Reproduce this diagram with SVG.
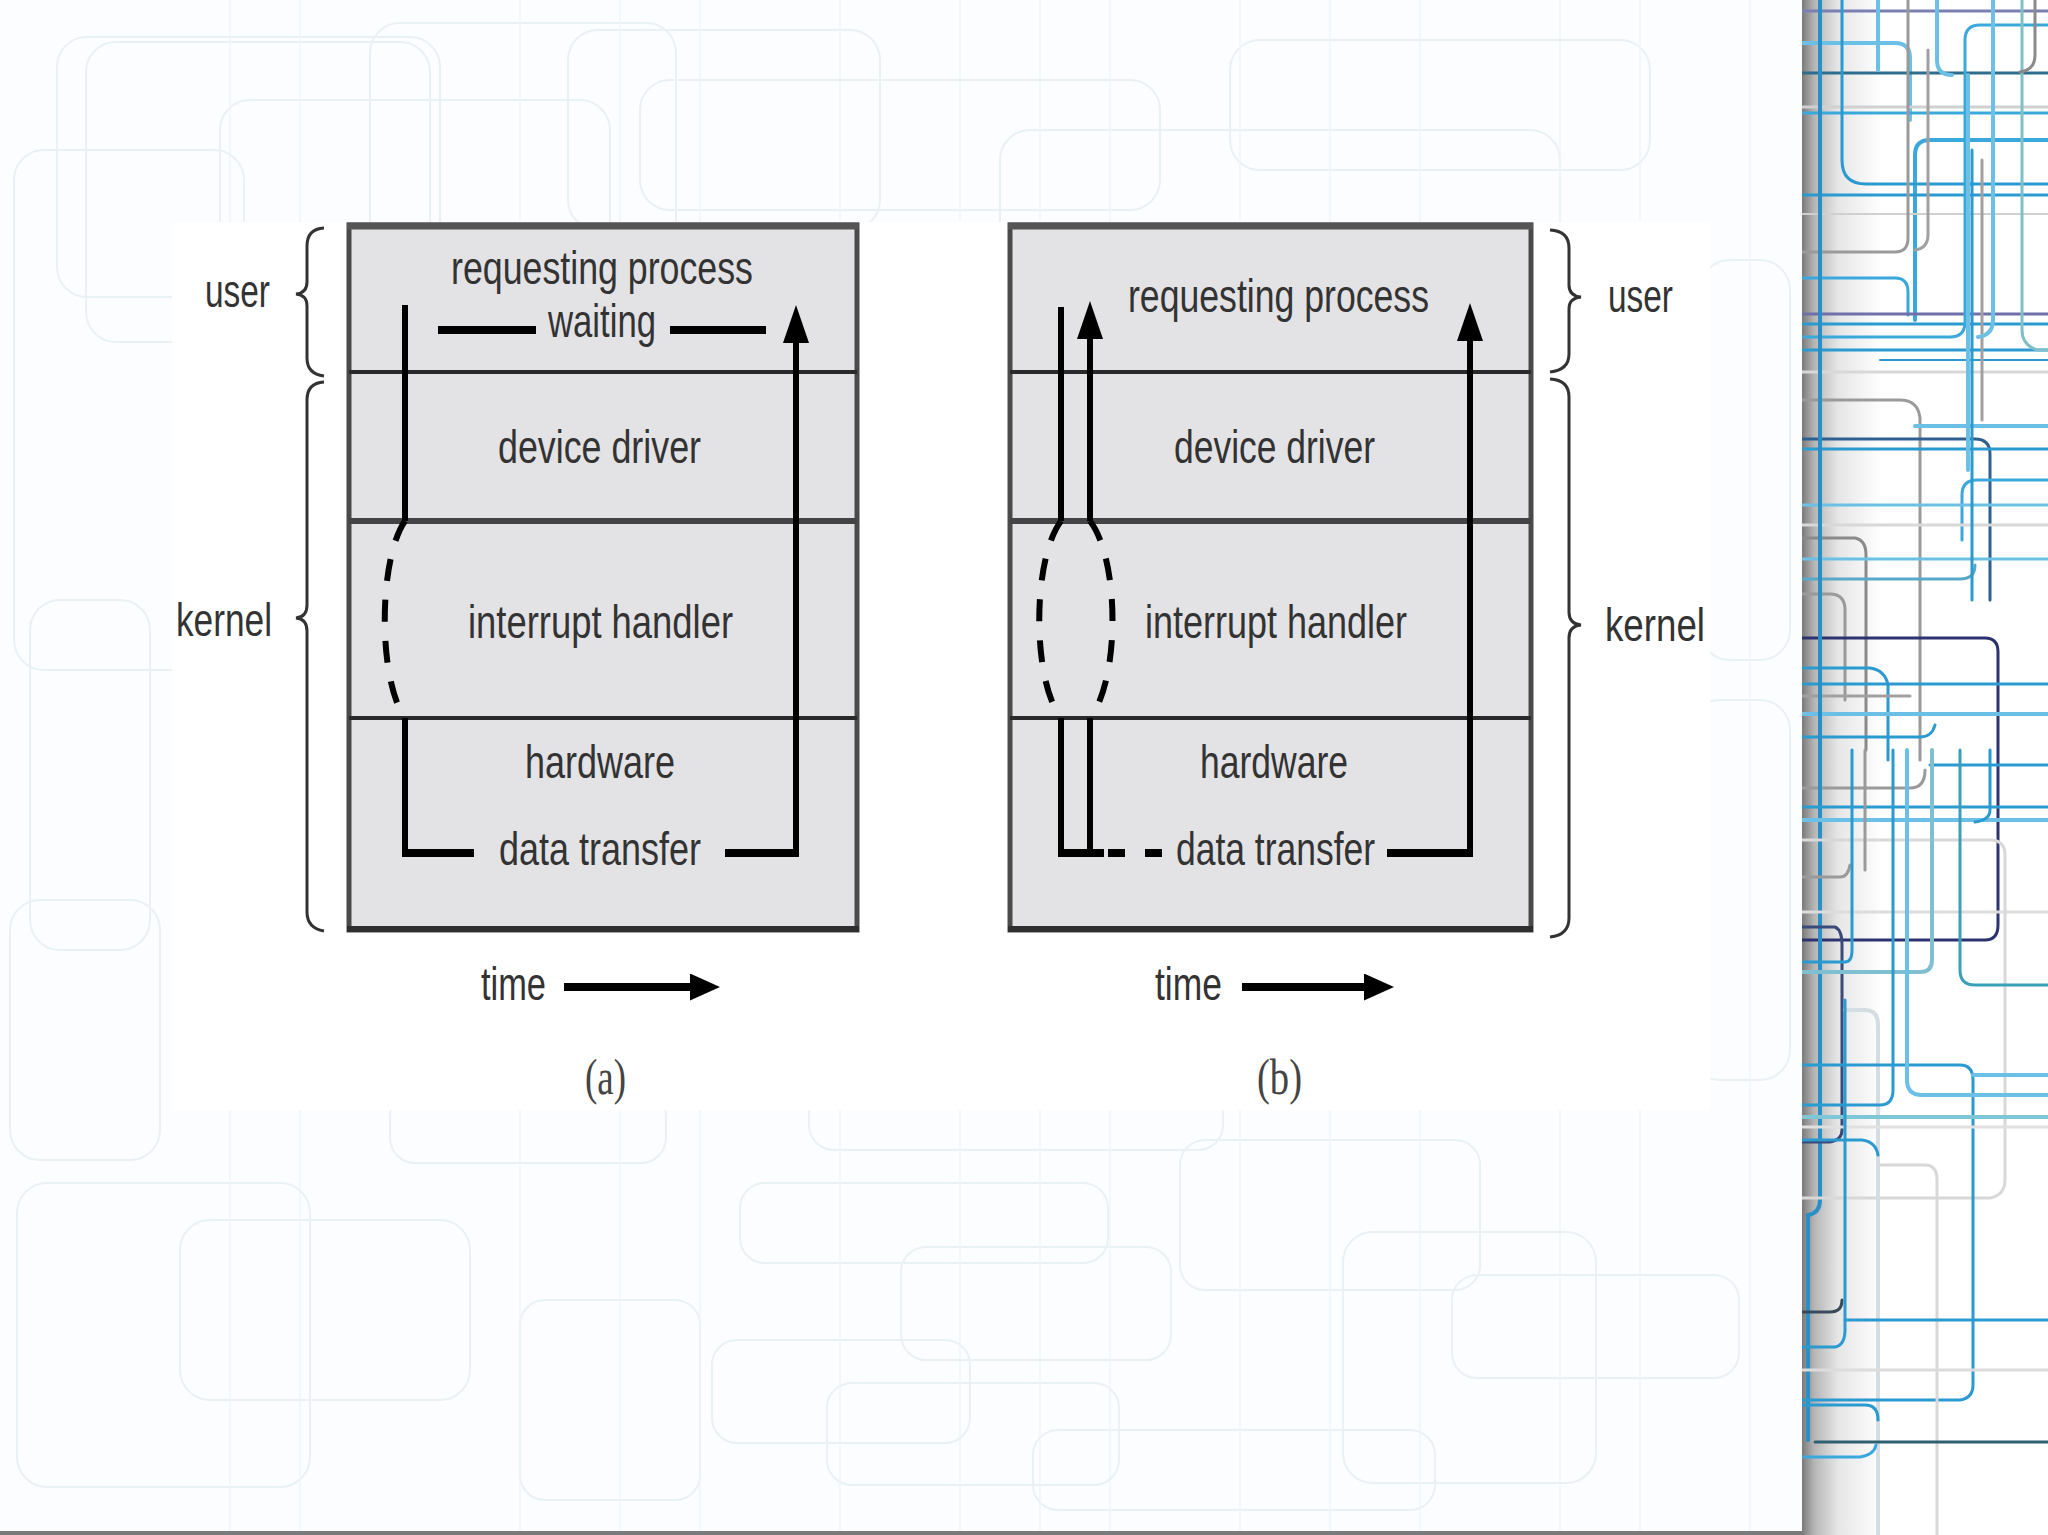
<svg xmlns="http://www.w3.org/2000/svg" width="2048" height="1535" viewBox="0 0 2048 1535">
<style>
.t{font-family:"Liberation Sans",Arial,Helvetica,sans-serif;font-size:46px;fill:#333}
.cap{font-family:"Liberation Serif","Times New Roman",serif;font-size:50px;fill:#444}
.layer{fill:#e3e2e5}
.div{stroke:#2a2a2a;stroke-width:4}
.div2{stroke:#444;stroke-width:6}
.ln{fill:none;stroke:#000;stroke-width:6;stroke-linejoin:miter}
.lnb{fill:none;stroke:#000;stroke-width:8}
.dash{fill:none;stroke:#000;stroke-width:6;stroke-dasharray:22 19}
.brace{fill:none;stroke:#333;stroke-width:3}
.bg{fill:none;stroke:#e9f1f5;stroke-width:2}
.bgv{stroke:#eef5f8;stroke-width:1.5}
.s path{fill:none}
</style>
<defs>
<marker id="ah" viewBox="0 0 38 26" markerWidth="38" markerHeight="26" refX="0" refY="13" orient="auto" markerUnits="userSpaceOnUse"><path d="M0,0 L38,13 L0,26 z" fill="#000"/></marker>
<marker id="th" viewBox="0 0 30 27" markerWidth="30" markerHeight="27" refX="0" refY="13.5" orient="auto" markerUnits="userSpaceOnUse"><path d="M0,0 L30,13.5 L0,27 z" fill="#000"/></marker>
<linearGradient id="shadow" x1="0" y1="0" x2="1" y2="0">
<stop offset="0" stop-color="#7a7a7a"/>
<stop offset="0.15" stop-color="#b5b5b5"/>
<stop offset="0.45" stop-color="#e6e6e6"/>
<stop offset="1" stop-color="#ffffff"/>
</linearGradient>
<clipPath id="stripclip"><rect x="1802" y="0" width="246" height="1535"/></clipPath>
</defs>

<rect x="0" y="0" width="2048" height="1535" fill="#fcfdfe"/>

<g id="background-pattern">
<rect class="bg" x="57" y="37" width="383" height="260" rx="30"/>
<rect class="bg" x="86" y="42" width="344" height="300" rx="30"/>
<rect class="bg" x="370" y="23" width="306" height="240" rx="30"/>
<rect class="bg" x="568" y="30" width="312" height="200" rx="30"/>
<rect class="bg" x="220" y="100" width="390" height="170" rx="30"/>
<rect class="bg" x="640" y="80" width="520" height="130" rx="30"/>
<rect class="bg" x="1000" y="130" width="560" height="150" rx="30"/>
<rect class="bg" x="1230" y="40" width="420" height="130" rx="30"/>
<rect class="bg" x="14" y="150" width="230" height="520" rx="30"/>
<rect class="bg" x="30" y="600" width="120" height="350" rx="30"/>
<rect class="bg" x="10" y="900" width="150" height="260" rx="30"/>
<rect class="bg" x="1700" y="260" width="90" height="400" rx="30"/>
<rect class="bg" x="1690" y="700" width="100" height="380" rx="30"/>
<rect class="bg" x="390" y="1090" width="276" height="73" rx="25"/>
<rect class="bg" x="809" y="1090" width="414" height="60" rx="25"/>
<rect class="bg" x="740" y="1183" width="368" height="80" rx="25"/>
<rect class="bg" x="17" y="1183" width="293" height="304" rx="30"/>
<rect class="bg" x="180" y="1220" width="290" height="180" rx="30"/>
<rect class="bg" x="1343" y="1232" width="253" height="251" rx="30"/>
<rect class="bg" x="1452" y="1275" width="287" height="103" rx="25"/>
<rect class="bg" x="827" y="1383" width="292" height="102" rx="25"/>
<rect class="bg" x="1033" y="1430" width="402" height="80" rx="25"/>
<rect class="bg" x="712" y="1340" width="258" height="103" rx="25"/>
<rect class="bg" x="901" y="1247" width="270" height="113" rx="25"/>
<rect class="bg" x="520" y="1300" width="180" height="200" rx="25"/>
<rect class="bg" x="1180" y="1140" width="300" height="150" rx="25"/>
<g>
<line class="bgv" x1="230" y1="0" x2="230" y2="1535"/>
<line class="bgv" x1="300" y1="0" x2="300" y2="1535"/>
<line class="bgv" x1="520" y1="0" x2="520" y2="1535"/>
<line class="bgv" x1="620" y1="0" x2="620" y2="1535"/>
<line class="bgv" x1="700" y1="0" x2="700" y2="1535"/>
<line class="bgv" x1="840" y1="0" x2="840" y2="1535"/>
<line class="bgv" x1="960" y1="0" x2="960" y2="1535"/>
<line class="bgv" x1="1040" y1="0" x2="1040" y2="1535"/>
<line class="bgv" x1="1110" y1="0" x2="1110" y2="1535"/>
<line class="bgv" x1="1240" y1="0" x2="1240" y2="1535"/>
<line class="bgv" x1="1330" y1="0" x2="1330" y2="1535"/>
<line class="bgv" x1="1420" y1="0" x2="1420" y2="1535"/>
<line class="bgv" x1="1560" y1="0" x2="1560" y2="1535"/>
<line class="bgv" x1="1640" y1="0" x2="1640" y2="1535"/>
<line class="bgv" x1="1750" y1="0" x2="1750" y2="1535"/>
</g>
</g>

<rect id="white-panel" x="172" y="222" width="1538" height="888" fill="#ffffff"/>

<g id="right-strip">
<rect x="1802" y="0" width="246" height="1535" fill="#ffffff"/>
<rect x="1802" y="0" width="80" height="1535" fill="url(#shadow)"/>
<g class="s" clip-path="url(#stripclip)" stroke-linecap="round">
<path d="M1802,11 H2048" stroke="#7b80b3" stroke-width="3"/>
<path d="M1802,43 H1895 Q1910,43 1910,58 V120" stroke="#6cc0e6" stroke-width="4"/>
<path d="M1802,73 H2048" stroke="#2f6d8c" stroke-width="3"/>
<path d="M1802,107 H2048" stroke="#d0d0d0" stroke-width="3"/>
<path d="M1802,113 H2048" stroke="#3aa8dc" stroke-width="3"/>
<path d="M2048,140 H1930 Q1915,140 1915,155 V320" stroke="#3aa8dc" stroke-width="4"/>
<path d="M1842,0 V160 Q1842,184 1866,184 H2048" stroke="#2a9ad0" stroke-width="3"/>
<path d="M1802,195 H2048" stroke="#2a9ad0" stroke-width="3"/>
<path d="M1802,214 H2048" stroke="#d0d0d0" stroke-width="2"/>
<path d="M1802,252 H1895 Q1908,252 1908,238 V0" stroke="#9a9a9a" stroke-width="3"/>
<path d="M1802,278 H1895 Q1908,278 1908,292 V315" stroke="#3aa8dc" stroke-width="3"/>
<path d="M1802,314 H2048" stroke="#7070a8" stroke-width="3"/>
<path d="M1802,324 H2048" stroke="#2a9ad0" stroke-width="3"/>
<path d="M1802,337 H1950 Q1965,337 1965,322 V40 Q1965,25 1980,25 H2048" stroke="#3aa8dc" stroke-width="3"/>
<path d="M1802,350 H2048" stroke="#2a9ad0" stroke-width="3"/>
<path d="M1880,360 H2048" stroke="#2a9ad0" stroke-width="2"/>
<path d="M1802,372 H2048" stroke="#d8d8d8" stroke-width="3"/>
<path d="M1802,400 H1900 Q1918,400 1920,418 V760" stroke="#9a9a9a" stroke-width="3"/>
<path d="M1915,426 H2048" stroke="#6cc0e6" stroke-width="4"/>
<path d="M1802,439 H1975 Q1990,439 1990,454 V600" stroke="#2f5f8f" stroke-width="3"/>
<path d="M1802,449 H2048" stroke="#2a9ad0" stroke-width="3"/>
<path d="M1962,540 V495 Q1962,480 1977,480 H2048" stroke="#3aa8dc" stroke-width="3"/>
<path d="M1802,505 H2048" stroke="#6cc0e6" stroke-width="3"/>
<path d="M1802,525 H2048" stroke="#d8d8d8" stroke-width="3"/>
<path d="M1802,538 H1855 Q1866,540 1866,555 V750" stroke="#8a8a8a" stroke-width="3"/>
<path d="M1802,559 H2048" stroke="#6cc0e6" stroke-width="3"/>
<path d="M1802,579 H1960 Q1975,579 1975,565" stroke="#5aa8c8" stroke-width="3"/>
<path d="M1802,594 H1830 Q1845,594 1845,610 V700" stroke="#9a9a9a" stroke-width="3"/>
<path d="M1802,638 H1985 Q1998,638 1998,652 V925 Q1998,940 1985,940 H1802" stroke="#2c3470" stroke-width="3"/>
<path d="M1802,668 H1870 Q1885,670 1888,685 V760" stroke="#2a9ad0" stroke-width="3"/>
<path d="M1802,684 H2048" stroke="#2a9ad0" stroke-width="3"/>
<path d="M1802,696 H1910" stroke="#a0a0a0" stroke-width="3"/>
<path d="M1802,714 H2048" stroke="#6cc0e6" stroke-width="4"/>
<path d="M1802,737 H1920 Q1932,737 1935,725" stroke="#2a9ad0" stroke-width="3"/>
<path d="M1930,765 H2048" stroke="#2a9ad0" stroke-width="3"/>
<path d="M1802,788 H1910 Q1925,788 1925,770" stroke="#9a9a9a" stroke-width="3"/>
<path d="M1878,0 V70" stroke="#6cc0e6" stroke-width="4"/>
<path d="M1928,50 V235 Q1928,248 1915,250" stroke="#a0a0a0" stroke-width="3"/>
<path d="M1937,0 V60 Q1937,75 1952,75" stroke="#6cc0e6" stroke-width="4"/>
<path d="M1968,75 V470" stroke="#6cc0e6" stroke-width="4"/>
<path d="M1972,150 V600" stroke="#2a9ad0" stroke-width="3"/>
<path d="M1982,160 V420" stroke="#a0a0a0" stroke-width="3"/>
<path d="M1993,0 V320 Q1993,335 1978,337" stroke="#6cc0e6" stroke-width="4"/>
<path d="M2022,0 V330 Q2022,345 2037,350 H2048" stroke="#7fc0c8" stroke-width="3"/>
<path d="M2035,0 V55 Q2035,70 2020,72" stroke="#8a8a8a" stroke-width="3"/>
<path d="M1820,0 V1200 Q1820,1213 1808,1215 V1440" stroke="#2a8fc6" stroke-width="4"/>
<path d="M1802,807 H2048" stroke="#2a9ad0" stroke-width="3"/>
<path d="M1802,820 H2048" stroke="#6cc0e6" stroke-width="4"/>
<path d="M1802,840 H1990 Q2005,840 2005,855 V1180 Q2005,1195 1990,1198 H1802" stroke="#d8d8d8" stroke-width="3"/>
<path d="M1802,877 H1840 Q1848,877 1850,865" stroke="#9a9a9a" stroke-width="3"/>
<path d="M1802,912 H2048" stroke="#dcdcdc" stroke-width="3"/>
<path d="M1802,927 H1835 Q1842,930 1842,945 V1130 Q1842,1140 1830,1142 H1802" stroke="#3a4a7a" stroke-width="3"/>
<path d="M1802,962 H1845 Q1852,962 1852,950 V750" stroke="#2a9ad0" stroke-width="3"/>
<path d="M1802,972 H1920 Q1932,972 1932,960 V750" stroke="#7fbfcf" stroke-width="4"/>
<path d="M2048,985 H1975 Q1960,985 1960,970 V750" stroke="#3aa0b8" stroke-width="3"/>
<path d="M1845,1010 H1865 Q1878,1010 1878,1025 V1535" stroke="#d4dde2" stroke-width="4"/>
<path d="M1802,1065 H1960 Q1973,1065 1973,1080 V1385 Q1973,1398 1960,1400 H1802" stroke="#2a9ad0" stroke-width="3"/>
<path d="M1973,1075 H2048" stroke="#6cc0e6" stroke-width="4"/>
<path d="M1907,750 V1080 Q1907,1095 1922,1095 H2048" stroke="#6cc0e6" stroke-width="4"/>
<path d="M1802,1105 H1880 Q1893,1105 1893,1090 V750" stroke="#2a9ad0" stroke-width="3"/>
<path d="M1802,1117 H2048" stroke="#7fc7d7" stroke-width="4"/>
<path d="M1802,1127 H2048" stroke="#e0e0e0" stroke-width="3"/>
<path d="M1802,1140 H1862 Q1876,1142 1878,1155" stroke="#2a9ad0" stroke-width="3"/>
<path d="M1880,1165 H1925 Q1937,1165 1937,1180 V1535" stroke="#d8d8d8" stroke-width="3"/>
<path d="M1865,750 V870" stroke="#9a9a9a" stroke-width="3"/>
<path d="M1990,750 V810 Q1990,820 1975,822" stroke="#2a9ad0" stroke-width="3"/>
<path d="M1802,1312 H1830 Q1842,1312 1842,1300" stroke="#3a4a5a" stroke-width="3"/>
<path d="M1845,1320 H2048" stroke="#2a9ad0" stroke-width="3"/>
<path d="M1802,1347 H1835 Q1845,1345 1845,1330 V1000" stroke="#2a9ad0" stroke-width="3"/>
<path d="M1802,1370 H2048" stroke="#dcdcdc" stroke-width="3"/>
<path d="M1802,1405 H1865 Q1878,1405 1878,1420" stroke="#2a9ad0" stroke-width="3"/>
<path d="M1815,1442 H2048" stroke="#2e6070" stroke-width="3"/>
<path d="M1802,1457 H1860 Q1874,1455 1876,1445" stroke="#3aa8dc" stroke-width="3"/>
</g>
</g>

<rect id="bottom-edge" x="0" y="1531" width="1802" height="4" fill="#7a7a7a"/>

<g id="diagram-a">
<g id="a-user"><rect class="layer" x="349" y="225" width="508" height="147"/>
<text class="t" x="451" y="284" textLength="302" lengthAdjust="spacingAndGlyphs">requesting process</text>
<text class="t" x="548" y="337" textLength="108" lengthAdjust="spacingAndGlyphs">waiting</text></g>
<g id="a-driver"><rect class="layer" x="349" y="372" width="508" height="149"/>
<text class="t" x="498" y="463" textLength="203" lengthAdjust="spacingAndGlyphs">device driver</text></g>
<g id="a-interrupt"><rect class="layer" x="349" y="521" width="508" height="197"/>
<text class="t" x="468" y="638" textLength="265" lengthAdjust="spacingAndGlyphs">interrupt handler</text></g>
<g id="a-hardware"><rect class="layer" x="349" y="718" width="508" height="212"/>
<text class="t" x="525" y="778" textLength="150" lengthAdjust="spacingAndGlyphs">hardware</text>
<text class="t" x="499" y="865" textLength="202" lengthAdjust="spacingAndGlyphs">data transfer</text></g>
<rect x="349" y="225" width="508" height="705" fill="none" stroke="#4a4a4a" stroke-width="5"/>
<line x1="347" y1="226" x2="859" y2="226" stroke="#555" stroke-width="7"/>
<line x1="347" y1="929" x2="859" y2="929" stroke="#2e2e2e" stroke-width="6"/>
<line class="div" x1="349" y1="372" x2="857" y2="372"/>
<line class="div2" x1="349" y1="521" x2="857" y2="521"/>
<line class="div" x1="349" y1="718" x2="857" y2="718"/>
<text class="t" x="205" y="307" textLength="65" lengthAdjust="spacingAndGlyphs">user</text>
<text class="t" x="176" y="636" textLength="96" lengthAdjust="spacingAndGlyphs">kernel</text>
<path class="brace" d="M324,228 Q307,229 307,246 L307,282 Q307,293 296,294 Q307,295 307,306 L307,358 Q307,374 324,376"/>
<path class="brace" d="M324,382 Q307,383 307,400 L307,605 Q307,617 296,618 Q307,619 307,631 L307,912 Q307,928 324,931"/>
<text class="t" x="481" y="1000" textLength="65" lengthAdjust="spacingAndGlyphs">time</text>
<text class="cap" x="585" y="1094" textLength="41" lengthAdjust="spacingAndGlyphs">(a)</text>
</g>

<g id="diagram-b">
<g id="b-user"><rect class="layer" x="1010" y="225" width="521" height="147"/>
<text class="t" x="1128" y="312" textLength="301" lengthAdjust="spacingAndGlyphs">requesting process</text></g>
<g id="b-driver"><rect class="layer" x="1010" y="372" width="521" height="149"/>
<text class="t" x="1174" y="463" textLength="201" lengthAdjust="spacingAndGlyphs">device driver</text></g>
<g id="b-interrupt"><rect class="layer" x="1010" y="521" width="521" height="197"/>
<text class="t" x="1145" y="638" textLength="262" lengthAdjust="spacingAndGlyphs">interrupt handler</text></g>
<g id="b-hardware"><rect class="layer" x="1010" y="718" width="521" height="212"/>
<text class="t" x="1200" y="778" textLength="148" lengthAdjust="spacingAndGlyphs">hardware</text>
<text class="t" x="1176" y="865" textLength="199" lengthAdjust="spacingAndGlyphs">data transfer</text></g>
<rect x="1010" y="225" width="521" height="705" fill="none" stroke="#4a4a4a" stroke-width="5"/>
<line x1="1008" y1="226" x2="1533" y2="226" stroke="#555" stroke-width="7"/>
<line x1="1008" y1="929" x2="1533" y2="929" stroke="#2e2e2e" stroke-width="6"/>
<line class="div" x1="1010" y1="372" x2="1531" y2="372"/>
<line class="div2" x1="1010" y1="521" x2="1531" y2="521"/>
<line class="div" x1="1010" y1="718" x2="1531" y2="718"/>
<text class="t" x="1608" y="312" textLength="65" lengthAdjust="spacingAndGlyphs">user</text>
<text class="t" x="1605" y="641" textLength="100" lengthAdjust="spacingAndGlyphs">kernel</text>
<path class="brace" d="M1550,230 Q1569,231 1569,248 L1569,285 Q1569,296 1581,297 Q1569,298 1569,309 L1569,354 Q1569,370 1550,372"/>
<path class="brace" d="M1550,379 Q1569,380 1569,397 L1569,612 Q1569,624 1581,625 Q1569,626 1569,638 L1569,918 Q1569,935 1550,937"/>
<text class="t" x="1155" y="1000" textLength="67" lengthAdjust="spacingAndGlyphs">time</text>
<text class="cap" x="1257" y="1094" textLength="45" lengthAdjust="spacingAndGlyphs">(b)</text>
</g>

<g id="connectors">
<path class="ln" d="M405,305 V521"/>
<path class="dash" d="M405,521 C378,560 378,680 405,718"/>
<path class="ln" d="M405,718 V853"/>
<path class="lnb" d="M402,853 H474"/>
<path class="lnb" d="M725,853 H799"/>
<path class="ln" d="M796,857 V343" marker-end="url(#ah)"/>
<path class="lnb" d="M438,330 H536 M670,330 H766"/>
<path class="ln" d="M1061,307 V521"/>
<path class="ln" d="M1090,521 V339" marker-end="url(#ah)"/>
<path class="dash" d="M1061,521 C1032,560 1032,680 1061,718"/>
<path class="dash" d="M1090,521 C1120,560 1120,680 1090,718"/>
<path class="ln" d="M1061,718 V853"/>
<path class="ln" d="M1090,718 V853"/>
<path class="lnb" d="M1058,853 H1104 M1108,853 H1125 M1145,853 H1162"/>
<path class="lnb" d="M1387,853 H1473"/>
<path class="ln" d="M1470,857 V341" marker-end="url(#ah)"/>
<path class="lnb" d="M564,987 H690" marker-end="url(#th)"/>
<path class="lnb" d="M1242,987 H1364" marker-end="url(#th)"/>
</g>
</svg>
